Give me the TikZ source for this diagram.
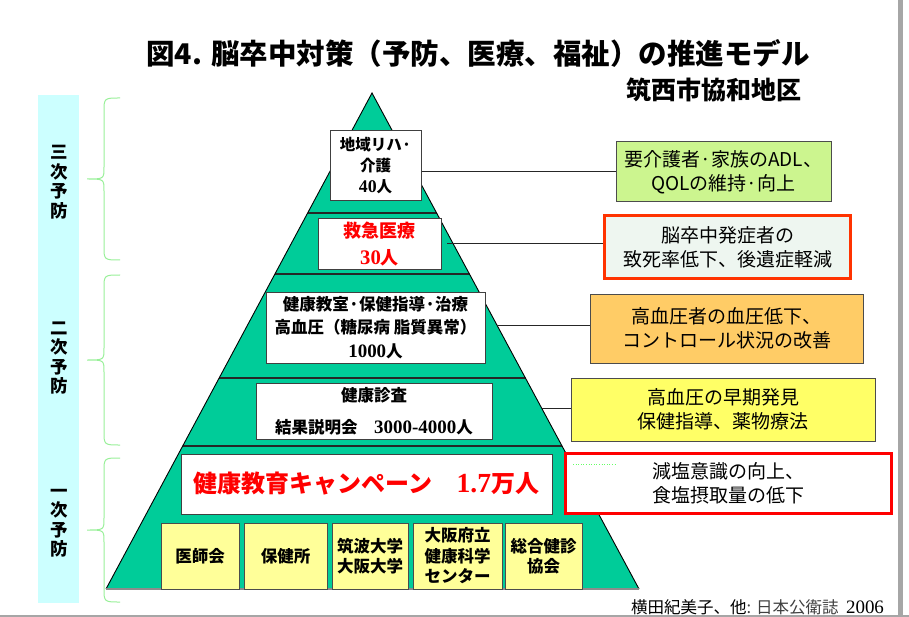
\documentclass[tikz,border=0pt]{standalone}
\usepackage{fontspec}
\setmainfont{Liberation Serif}[Scale=1.15]
\newfontfamily\jp{Noto Sans CJK JP}
\usetikzlibrary{calc}
\definecolor{pyr}{HTML}{00CC99}
\definecolor{barcol}{HTML}{CCFFFF}
\definecolor{bracecol}{HTML}{99F099}
\definecolor{ybox}{HTML}{FFFF99}
\definecolor{rgreen}{HTML}{CCF58F}
\definecolor{rpale}{HTML}{EEF6F0}
\definecolor{rorange}{HTML}{FF3300}
\definecolor{rorfill}{HTML}{FFCC66}
\definecolor{ryellow}{HTML}{FFFF66}
\newcommand\sn[1]{{\rmfamily\bfseries #1}}
\newcommand\LBrace[3]{%
  \draw[bracecol, line width=1pt] (120,#1) .. controls (104,#1) .. (104,#1+14) -- (104,#2-12)
    .. controls (104,#2) .. (87,#2) .. controls (104,#2) .. (104,#2+12) -- (104,#3-14)
    .. controls (104,#3) .. (120,#3);}
\begin{document}
\begin{tikzpicture}[x=1pt,y=-1pt,
  wbox/.style={draw=black!75,fill=white,line width=1pt,inner sep=0pt,align=center},
  yelbox/.style={draw=black!70,fill=ybox,line width=1pt,inner sep=0pt,align=center,
    minimum height=66pt,font=\jp\bfseries\fontsize{16.5}{20.5}\selectfont},
  rbox/.style={draw=black!70,line width=1pt,inner sep=0pt,align=center,
    font=\jp\fontsize{19}{24}\selectfont},
  conn/.style={draw=black!85,line width=1pt},
  vtext/.style={font=\jp\bfseries\fontsize{17.5}{19.5}\selectfont,align=center}
]
\useasboundingbox (0,0) rectangle (909,617);
\fill[white] (0,0) rectangle (909,617);
% frame lines
\fill[black!35] (898,0) rectangle (903,617);
\draw[black!35, line width=2pt] (0,616) -- (909,616);
% left bar
\fill[barcol] (38,95) rectangle (79,603);
\node[vtext] (san) at (59,182) {三\\次\\予\\防};
\node[vtext] (ni) at (59,358) {二\\次\\予\\防};
\node[vtext] (ichi) at (59,523) {一\\次\\予\\防};
\LBrace{98}{179}{260}
\LBrace{275}{360}{445}
\LBrace{458}{530}{602}
% title
\node[font=\jp\bfseries\fontsize{28.5}{30}\selectfont] (title) at (478,53) {図4. 脳卒中対策（予防、医療、福祉）の推進モデル};
\node[anchor=east,font=\jp\bfseries\fontsize{25}{27}\selectfont] (sub) at (806,90) {筑西市協和地区};
% pyramid
\coordinate (apex) at (372,93);
\coordinate (bl) at (106,589);
\coordinate (br) at (639,589);
\fill[pyr] (apex) -- (bl) -- (br) -- cycle;
\begin{scope}
  \clip (apex) -- (bl) -- (br) -- cycle;
  \foreach \yy in {213,274,378,446} \draw[line width=1.6pt, black!85] (90,\yy) -- (660,\yy);
\end{scope}
\draw[line width=0.9pt] (bl) -- (apex) -- (br);
\draw[black!45, line width=1.2pt] (bl) -- (br);
% pyramid boxes
\node[wbox, minimum width=91pt, minimum height=70pt, font=\jp\bfseries\fontsize{15.5}{21}\selectfont] (riha) at (375.5,166) {地域リハ·\\介護\\\sn{40}人};
\node[wbox, minimum width=123pt, minimum height=51pt, text=red, font=\jp\bfseries\fontsize{18}{27}\selectfont] (kyu) at (379.5,244.5) {救急医療\\\sn{30}人};
\node[wbox, minimum width=219pt, minimum height=71pt, font=\jp\bfseries\fontsize{16.5}{23.5}\selectfont] (kyo) at (375.5,327.5) {健康教室·保健指導·治療\\高血圧（糖尿病 脂質異常）\\\sn{1000}人};
\node[wbox, minimum width=236pt, minimum height=56pt, font=\jp\bfseries\fontsize{16.5}{32}\selectfont] (shin) at (374,411) {健康診査\\結果説明会\quad\sn{3000-4000}人};
\node[wbox, minimum width=371pt, minimum height=60pt, text=red, font=\jp\bfseries\fontsize{24}{26}\selectfont] (camp) at (366.5,484) {健康教育キャンペーン\quad\sn{1.7}万人};
\node[yelbox, minimum width=78pt] (y1) at (200,556) {医師会};
\node[yelbox, minimum width=83pt] (y2) at (285.5,556) {保健所};
\node[yelbox, minimum width=76pt] (y3) at (370,556) {筑波大学\\大阪大学};
\node[yelbox, minimum width=89pt] (y4) at (457.5,556) {大阪府立\\健康科学\\センター};
\node[yelbox, minimum width=77pt] (y5) at (543.5,556) {総合健診\\協会};
% right boxes
\node[rbox, fill=rgreen, minimum width=215pt, minimum height=60pt] (r1) at (723.5,172) {要介護者·家族のADL、\\QOLの維持·向上};
\node[rbox, fill=rpale, draw=rorange, line width=2.5pt, minimum width=246pt, minimum height=63pt] (r2) at (727.5,247) {脳卒中発症者の\\致死率低下、後遺症軽減};
\node[rbox, fill=rorfill, minimum width=273pt, minimum height=69pt] (r3) at (726.5,328.5) {高血圧者の血圧低下、\\コントロール状況の改善};
\node[rbox, fill=ryellow, minimum width=304pt, minimum height=63pt] (r4) at (723,409.5) {高血圧の早期発見\\保健指導、薬物療法};
\node[rbox, fill=white, draw=red, line width=2.5pt, minimum width=326pt, minimum height=60pt] (r5) at (728.5,483.5) {減塩意識の向上、\\食塩摂取量の低下};
% connectors
\draw[conn] (riha.east |- r1.west) -- (r1.west);
\coordinate (c2) at (447,244);
\draw[conn] (c2) -- (c2 -| r2.west);
\coordinate (c3) at (497,325);
\draw[conn] (c3) -- (c3 -| r3.west);
\coordinate (c4) at (541,408);
\draw[conn] (c4) -- (c4 -| r4.west);
\coordinate (d1) at (573,464);
\coordinate (d2) at (615,464);
\draw[green!60, dotted, line width=0.6pt] (d1) -- (d2);
% citation
\node[anchor=east, font=\jp\fontsize{16.5}{18}\selectfont] (cite) at (888,607) {横田紀美子、他{\color{black!75}: 日本公衛誌}\ \ {\rmfamily 2006}};
\end{tikzpicture}
\end{document}
